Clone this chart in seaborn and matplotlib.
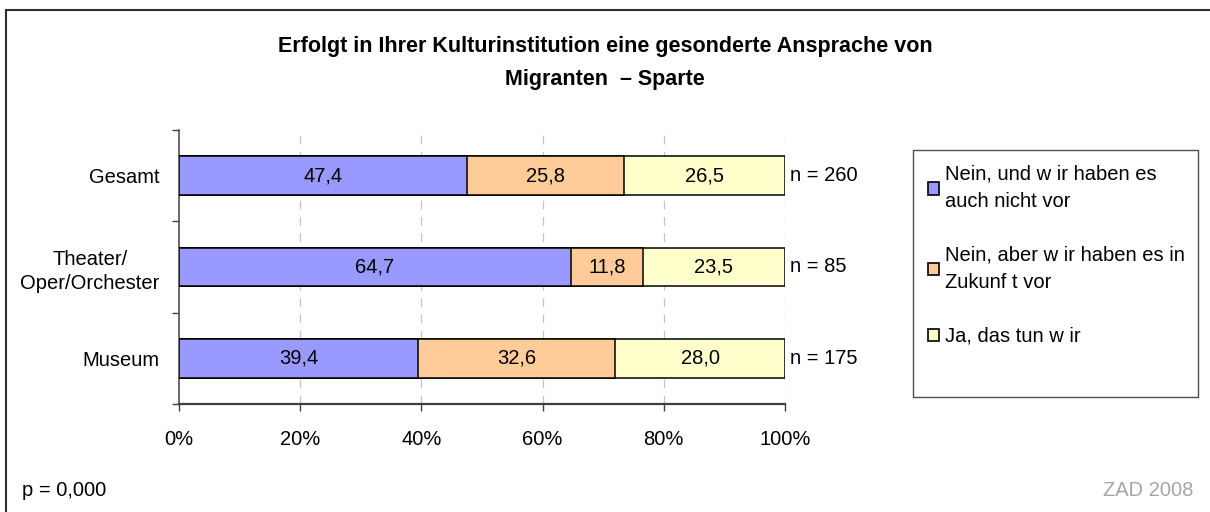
import matplotlib
matplotlib.use("Agg")
import matplotlib.pyplot as plt
from matplotlib.patches import Rectangle, Patch
from matplotlib.ticker import FixedLocator
import numpy as np
import pandas as pd
import seaborn as sns

# ---- data ----
categories = ["Gesamt", "Theater/\nOper/Orchester", "Museum"]
nein_nicht = [47.4, 64.7, 39.4]
nein_zukunft = [25.8, 11.8, 32.6]
ja = [26.5, 23.5, 28.0]
n_labels = ["n = 260", "n = 85", "n = 175"]
series_names = ["Nein, und w ir haben es\nauch nicht vor",
                "Nein, aber w ir haben es in\nZukunf t vor",
                "Ja, das tun w ir"]
x_ticks = [0, 20, 40, 60, 80, 100]
x_ticklabels = ["0%", "20%", "40%", "60%", "80%", "100%"]
title = "Erfolgt in Ihrer Kulturinstitution eine gesonderte Ansprache von\nMigranten  – Sparte"
colors = ["#9999FF", "#FFCC99", "#FFFFCC"]

sns.set_theme(style="white")
plt.rcParams["font.family"] = ["Liberation Sans", "DejaVu Sans"]
plt.rcParams["text.color"] = "black"
plt.rcParams["xtick.color"] = "black"
plt.rcParams["ytick.color"] = "black"
plt.rcParams["xtick.labelcolor"] = "black"
plt.rcParams["ytick.labelcolor"] = "black"

fig = plt.figure(figsize=(12.1, 5.12), dpi=100)
W, H = 1210, 512
def fx(px): return px / W
def fy(py): return 1 - py / H

# outer frame (only top/left visible in reference)
fig.patches.append(Rectangle((fx(6), fy(600)), fx(1300), fy(10) - fy(600),
                             transform=fig.transFigure, fill=False,
                             edgecolor="#303030", linewidth=1.5))

ax = fig.add_axes([fx(179), fy(404), fx(785) - fx(179), fy(130) - fy(404)])

df = pd.DataFrame({"cat": categories, "a": nein_nicht, "b": nein_zukunft, "c": ja})
tot = df[["a", "b", "c"]].sum(axis=1)
pa = df["a"] / tot * 100
pb = df["b"] / tot * 100
pc = df["c"] / tot * 100
cum1 = pa
cum2 = pa + pb
cum3 = pa + pb + pc
df["cum1"], df["cum2"], df["cum3"] = cum1, cum2, cum3

for col, c in [("cum3", colors[2]), ("cum2", colors[1]), ("cum1", colors[0])]:
    sns.barplot(data=df, x=col, y="cat", orient="h", color=c, saturation=1,
                edgecolor="black", linewidth=1.1, width=0.42, ax=ax, zorder=3)

fs = 14.5
for i in range(len(categories)):
    starts = [0, cum1[i], cum2[i]]
    widths = [pa[i], pb[i], pc[i]]
    vals = [nein_nicht[i], nein_zukunft[i], ja[i]]
    for s, w, v in zip(starts, widths, vals):
        ax.text(s + w / 2, i, f"{v:.1f}".replace(".", ","), ha="center",
                va="center", fontsize=fs, color="black", zorder=5)
    ax.text(cum3[i] + 0.8, i, n_labels[i], ha="left", va="center",
            fontsize=fs, color="black", clip_on=False)

ax.set_xlim(0, 100)
ax.set_ylim(2.5, -0.5)
ax.set_xlabel("")
ax.set_ylabel("")
ax.set_xticks(x_ticks)
ax.set_xticklabels(x_ticklabels, fontsize=fs, color="black")
ax.set_yticks(range(len(categories)))
ax.set_yticklabels(categories, fontsize=fs, ha="right", color="black")
ax.yaxis.set_minor_locator(FixedLocator([-0.5, 0.5, 1.5, 2.5]))
ax.tick_params(axis="y", which="major", length=0, pad=14)
ax.tick_params(axis="y", which="minor", length=5, width=1, color="#404040",
               direction="out", left=True)
ax.tick_params(axis="x", which="major", length=5, width=1, color="#404040",
               direction="out", bottom=True, pad=14)
for lab in ax.get_yticklabels():
    lab.set_multialignment("center")
    lab.set_linespacing(1.35)

ax.grid(False)
for x in x_ticks[1:]:
    ax.axvline(x, color="#C4C4C4", linestyle=(0, (7, 6)), linewidth=0.9, zorder=1)

for s in ["top", "right"]:
    ax.spines[s].set_visible(False)
ax.spines["left"].set_color("#505050")
ax.spines["bottom"].set_color("#404040")
ax.spines["left"].set_linewidth(1.2)
ax.spines["bottom"].set_linewidth(1.6)
ax.set_facecolor("white")

fig.text(0.5, fy(63), title, ha="center", va="center", fontsize=15.5,
         fontweight="bold", linespacing=1.8, color="black")

# legend frame
fig.patches.append(Rectangle((fx(913), fy(397)), fx(1198) - fx(913), fy(150) - fy(397),
                             transform=fig.transFigure, fill=False,
                             edgecolor="#505050", linewidth=1))
handles = [Patch(facecolor=c, edgecolor="black", linewidth=1.2) for c in colors]
leg = fig.legend(handles, series_names, loc="upper left",
                 bbox_to_anchor=(fx(928), fy(165)), frameon=False,
                 fontsize=fs, handlelength=0.55, handleheight=0.55,
                 handletextpad=0.3, labelspacing=1.72, borderpad=0,
                 borderaxespad=0)
for t in leg.get_texts():
    t.set_linespacing(1.55)
    t.set_color("black")

fig.text(fx(22), fy(490), "p = 0,000", ha="left", va="center", fontsize=fs,
         color="black")
fig.text(fx(1193), fy(490), "ZAD 2008", ha="right", va="center", fontsize=fs,
         color="#A6A6A6")

fig.savefig("out.png", dpi=100, facecolor="white")
